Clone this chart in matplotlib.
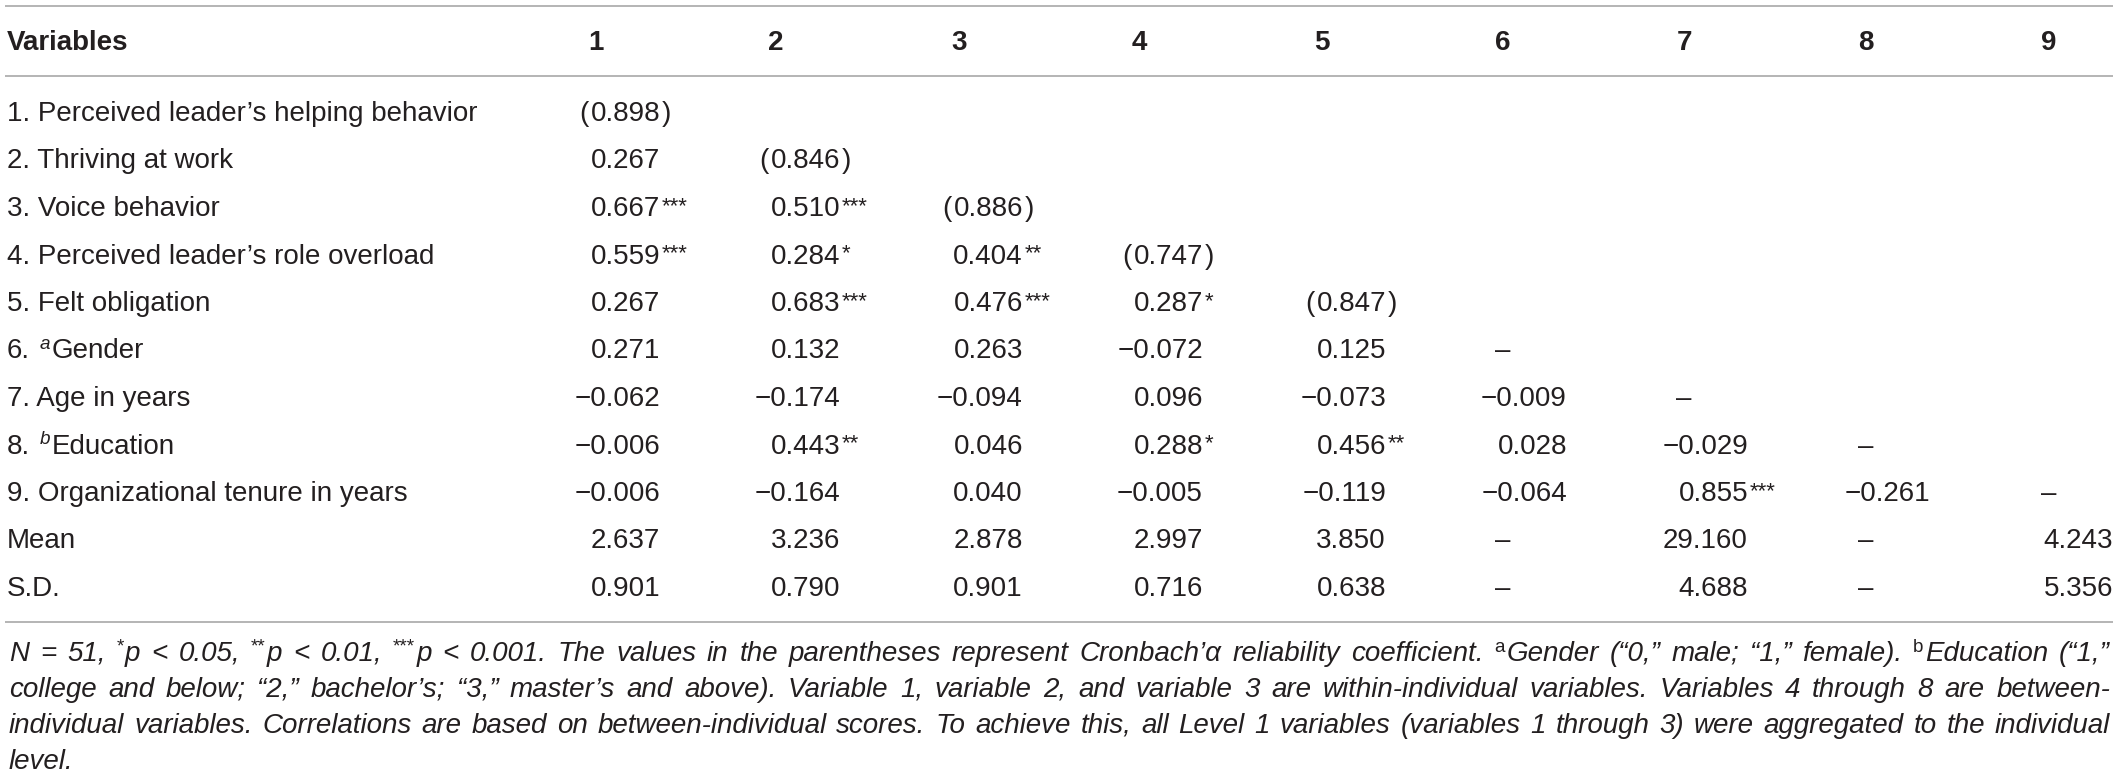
import re
import matplotlib
matplotlib.use("Agg")
import matplotlib.pyplot as plt

plt.rcParams["font.family"] = ["Liberation Sans", "DejaVu Sans"]

# table content
header = ["Variables", "1", "2", "3", "4", "5", "6", "7", "8", "9"]

row_labels = [
    "1. Perceived leader\u2019s helping behavior",
    "2. Thriving at work",
    "3. Voice behavior",
    "4. Perceived leader\u2019s role overload",
    "5. Felt obligation",
    "6. ^{a}Gender",
    "7. Age in years",
    "8. ^{b}Education",
    "9. Organizational tenure in years",
    "Mean",
    "S.D.",
]

corr = [
    ["(0.898)"],
    ["0.267", "(0.846)"],
    ["0.667***", "0.510***", "(0.886)"],
    ["0.559***", "0.284*", "0.404**", "(0.747)"],
    ["0.267", "0.683***", "0.476***", "0.287*", "(0.847)"],
    ["0.271", "0.132", "0.263", "\u22120.072", "0.125", "\u2013"],
    ["\u22120.062", "\u22120.174", "\u22120.094", "0.096", "\u22120.073", "\u22120.009", "\u2013"],
    ["\u22120.006", "0.443**", "0.046", "0.288*", "0.456**", "0.028", "\u22120.029", "\u2013"],
    ["\u22120.006", "\u22120.164", "0.040", "\u22120.005", "\u22120.119", "\u22120.064", "0.855***",
     "\u22120.261", "\u2013"],
]
means = ["2.637", "3.236", "2.878", "2.997", "3.850", "\u2013", "29.160", "\u2013", "4.243"]
sds = ["0.901", "0.790", "0.901", "0.716", "0.638", "\u2013", "4.688", "\u2013", "5.356"]

footnote = [
    "N = 51, ^{*}p < 0.05, ^{**}p < 0.01, ^{***}p < 0.001. The values in the parentheses represent "
    "Cronbach\u2019\u03b1 reliability coefficient. ^{a}Gender (\u201c0,\u201d male; \u201c1,\u201d female). "
    "^{b}Education (\u201c1,\u201d",
    "college and below; \u201c2,\u201d bachelor\u2019s; \u201c3,\u201d master\u2019s and above). Variable 1, "
    "variable 2, and variable 3 are within-individual variables. Variables 4 through 8 are between-",
    "individual variables. Correlations are based on between-individual scores. To achieve this, all "
    "Level 1 variables (variables 1 through 3) were aggregated to the individual",
    "level.",
]

# layout (pixels)
W, H = 2118, 782
INK = "#231f20"
RULE = "#a0a0a0"
BODY = 20
STAR = 16
SUP = 13
FOOT = 17.5
col_x = [596, 776, 959, 1139, 1322, 1503, 1684, 1866, 2049]
num_off = 64
header_base = 50
row_base0, row_step = 121, 47.5
foot_base = [661, 697, 733, 769]
foot_x0, foot_x1 = 9, 2110
rules_y = [6, 76, 622]

fig = plt.figure(figsize=(W / 100, H / 100), dpi=100)
ax = fig.add_axes([0, 0, 1, 1])
ax.set_xlim(0, W)
ax.set_ylim(H, 0)
ax.axis("off")
renderer = fig.canvas.get_renderer()


def put(x, y, s, size, **kw):
    kw.setdefault("ha", "left")
    return ax.text(x, y, s, fontsize=size, va="baseline", color=INK, **kw)


def width(t):
    return t.get_window_extent(renderer).width


def parse(s):
    out = []
    for m in re.finditer(r"\^\{([^}]*)\}|[^\^]+", s):
        if m.group(1) is not None:
            out.append((m.group(1), True))
        else:
            out.append((m.group(0), False))
    return out


def build_words(base, line, size, style, sup_style):
    sup_size = size * 0.68
    sup_dy = size * 0.46
    groups = []
    for word in line.split(" "):
        parts, off = [], 0
        for txt, sup in parse(word):
            if sup:
                t = put(0, base - sup_dy, txt, sup_size, style=sup_style)
            else:
                t = put(0, base, txt, size, style=style)
            parts.append((t, off))
            off += width(t) + (1.5 if sup else 0)
        groups.append((parts, off))
    return groups


def natural_gap(size):
    return size * 100 / 72 * 0.33


def draw_words(x0, x1, base, line, size, style, sup_style, justify):
    groups = build_words(base, line, size, style, sup_style)
    total = sum(w for _, w in groups)
    if justify and len(groups) > 1:
        gap = (x1 - x0 - total) / (len(groups) - 1)
    else:
        gap = natural_gap(size)
    x = x0
    for parts, w in groups:
        for t, off in parts:
            t.set_x(x + off)
        x += w + gap


def natural_width(line, size, style, sup_style):
    groups = build_words(0, line, size, style, sup_style)
    total = sum(w for _, w in groups) + natural_gap(size) * (len(groups) - 1)
    for parts, _ in groups:
        for t, _ in parts:
            t.remove()
    return total


def cell(s, hx, base, rx):
    if s == "\u2013":
        put(hx, base, s, BODY, ha="center")
        return
    op, num, cp, stars = re.match(r"^(\(?)([\u22120-9.]+)(\)?)(\**)$", s).groups()
    t = put(rx, base, num, BODY, ha="right")
    if op:
        put(rx - width(t) - 1.5, base, "(", BODY, ha="right")
    if cp:
        put(rx + 1.5, base, ")", BODY)
    if stars:
        put(rx + 1.5, base - 4, stars, STAR)


# rules
for y in rules_y:
    ax.plot([5, 2113], [y, y], color=RULE, lw=1.1, solid_capstyle="butt")

# header
put(7, header_base, header[0], BODY, weight="bold")
for hx, h in zip(col_x, header[1:]):
    put(hx, header_base, h, BODY, weight="bold", ha="center")

# body
body_rows = corr + [means, sds]
for i, (label, vals) in enumerate(zip(row_labels, body_rows)):
    base = row_base0 + row_step * i
    if "^{" in label:
        draw_words(7, 0, base, label, BODY, "normal", "italic", False)
    else:
        put(7, base, label, BODY)
    for j, v in enumerate(vals):
        rx = 2113 if j == 8 else col_x[j] + num_off
        cell(v, col_x[j], base, rx)

# footnote: pick the size whose natural line width fills the text block
widest = max(natural_width(line, FOOT, "italic", "normal") for line in footnote[:-1])
foot_size = FOOT * (foot_x1 - foot_x0) / widest * 0.995
for k, (line, base) in enumerate(zip(footnote, foot_base)):
    draw_words(foot_x0, foot_x1, base, line, foot_size, "italic", "normal",
               k < len(footnote) - 1)

fig.savefig("out.png", dpi=100)
